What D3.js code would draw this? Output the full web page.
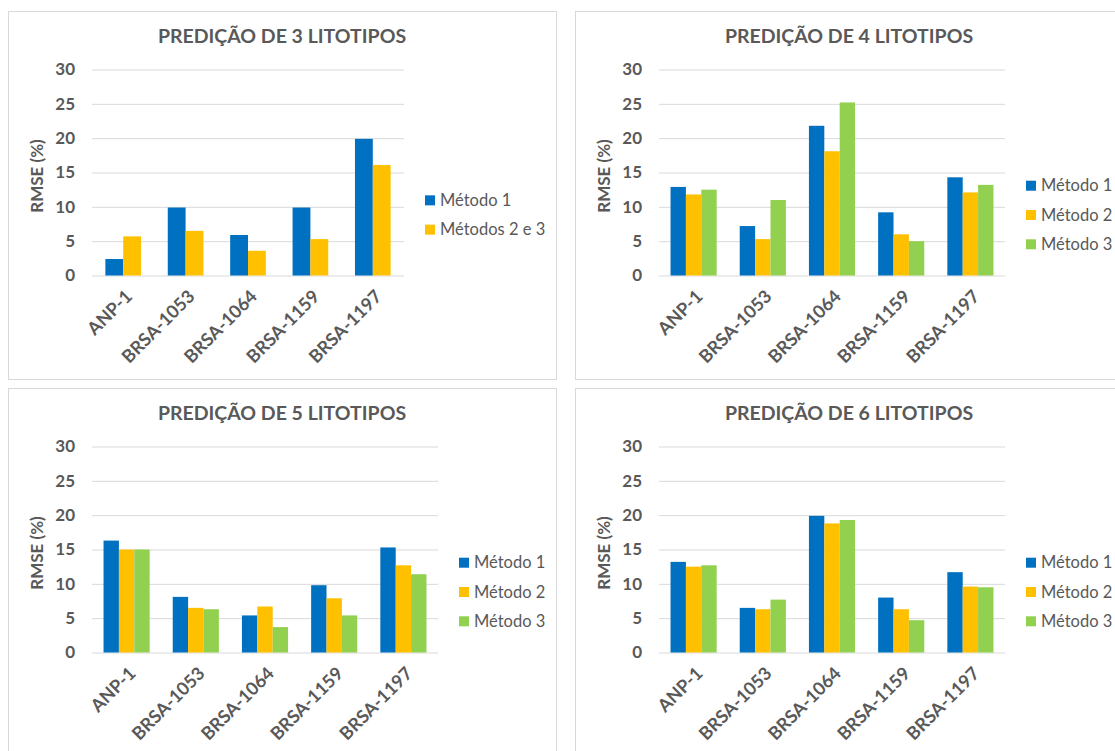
<!DOCTYPE html>
<html>
<head>
<meta charset="utf-8">
<script src="https://cdn.jsdelivr.net/npm/d3@7"></script>
<style>
	body { margin: 0; background: #fff; }
	text { font-family: Lato, "Open Sans", sans-serif; fill: #595959; }
</style>
</head>
<body>
<svg id="chart"></svg>
<script>
// pocos (categorias)
const wells = ["ANP-1", "BRSA-1053", "BRSA-1064", "BRSA-1159", "BRSA-1197"];
const y_ticks = [0, 5, 10, 15, 20, 25, 30];

const names_two = ["Método 1", "Métodos 2 e 3"];
const names_three = ["Método 1", "Método 2", "Método 3"];
const colors = ["#0070C0", "#FFC000", "#92D050"];

// predicao de 3 litotipos
const lito3_metodo1 = [2.4, 9.9, 5.9, 9.9, 19.9];
const lito3_metodos23 = [5.7, 6.5, 3.6, 5.3, 16.1];

// predicao de 4 litotipos
const lito4_metodo1 = [12.9, 7.2, 21.8, 9.2, 14.3];
const lito4_metodo2 = [11.8, 5.3, 18.1, 6.0, 12.1];
const lito4_metodo3 = [12.5, 11.0, 25.2, 5.0, 13.2];

// predicao de 5 litotipos
const lito5_metodo1 = [16.3, 8.1, 5.4, 9.8, 15.3];
const lito5_metodo2 = [15.0, 6.5, 6.7, 7.9, 12.7];
const lito5_metodo3 = [15.0, 6.3, 3.7, 5.4, 11.4];

// predicao de 6 litotipos
const lito6_metodo1 = [13.2, 6.5, 19.9, 8.0, 11.7];
const lito6_metodo2 = [12.5, 6.3, 18.8, 6.3, 9.6];
const lito6_metodo3 = [12.7, 7.7, 19.3, 4.7, 9.5];

const canvasWidth = 1115;
const canvasHeight = 751;

let panels = [
	{ title: "PREDIÇÃO DE 3 LITOTIPOS", px: 8, py: 11, names: names_two, series: [lito3_metodo1, lito3_metodos23] },
	{ title: "PREDIÇÃO DE 4 LITOTIPOS", px: 575, py: 11, names: names_three, series: [lito4_metodo1, lito4_metodo2, lito4_metodo3] },
	{ title: "PREDIÇÃO DE 5 LITOTIPOS", px: 8, py: 388, names: names_three, series: [lito5_metodo1, lito5_metodo2, lito5_metodo3] },
	{ title: "PREDIÇÃO DE 6 LITOTIPOS", px: 575, py: 388, names: names_three, series: [lito6_metodo1, lito6_metodo2, lito6_metodo3] }
];

let svg_elem = d3.select("#chart")
	.attr("width", canvasWidth)
	.attr("height", canvasHeight);

function drawPanel(p) {
	const panelW = 548, panelH = 368;
	let g = svg_elem.append("g");
	let n = p.series.length;

	g.append("rect")
		.attr("x", p.px + 0.5).attr("y", p.py + 0.5)
		.attr("width", panelW).attr("height", panelH)
		.attr("fill", "#fff")
		.attr("stroke", "#d9d9d9");

	g.append("text")
		.attr("x", p.px + panelW / 2)
		.attr("y", p.py + 32)
		.attr("text-anchor", "middle")
		.style("font-size", "19.5px")
		.style("font-weight", "bold")
		.text(p.title);

	let left = p.px + 84;
	let right = n === 2 ? p.px + 396 : p.px + 430;
	let y_scale = d3.scaleLinear()
		.domain([0, 30])
		.range([p.py + 264.5, p.py + 58.5]);

	let month_scale = d3.scaleBand().domain(wells).range([left, right]);
	let step = month_scale.bandwidth();
	let bar_w = step / (n + 1.5);
	let series_scale = d3.scaleBand()
		.domain(d3.range(n))
		.range([bar_w * 0.75, step - bar_w * 0.75]);

	// grade + rotulos do eixo y
	let y_axis = d3.axisLeft(y_scale)
		.tickValues(y_ticks)
		.tickSize(-(right - left))
		.tickPadding(17);
	let ya = g.append("g")
		.attr("transform", `translate(${left},0)`)
		.call(y_axis);
	ya.select(".domain").remove();
	ya.selectAll("line").attr("stroke", "#d9d9d9");
	ya.selectAll("text")
		.style("font-family", "Lato, sans-serif")
		.style("font-size", "17px")
		.style("font-weight", "bold")
		.attr("fill", "#595959");

	g.append("text")
		.attr("transform", `translate(${p.px + 35},${p.py + 165})rotate(-90)`)
		.attr("text-anchor", "middle")
		.style("font-size", "17px")
		.style("font-weight", "bold")
		.text("RMSE (%)");

	p.series.forEach((values, si) => {
		g.selectAll(".bar" + si)
			.data(values).enter()
			.append("rect")
			.attr("class", "bar" + si)
			.attr("x", (d, i) => month_scale(wells[i]) + series_scale(si))
			.attr("width", series_scale.bandwidth())
			.attr("y", d => y_scale(d))
			.attr("height", d => y_scale(0) - y_scale(d))
			.attr("fill", colors[si]);
	});

	// rotulos das categorias
	let xa = g.append("g")
		.attr("transform", `translate(0,${y_scale(0)})`)
		.call(d3.axisBottom(month_scale).tickSize(0).tickPadding(0));
	xa.select(".domain").remove();
	xa.selectAll("text")
		.style("font-family", "Lato, sans-serif")
		.style("font-size", "18px")
		.style("font-weight", "bold")
		.attr("fill", "#595959")
		.attr("text-anchor", "end")
		.attr("y", 0)
		.attr("dy", "0.72em")
		.attr("transform", "translate(1,13)rotate(-45)");

	// legenda
	let leg_mid = p.py + 204;
	let leg_step = 29.3;
	let leg_x = right + 21;
	p.names.forEach((name, si) => {
		let cy = leg_mid + (si - (n - 1) / 2) * leg_step;
		g.append("rect")
			.attr("x", leg_x).attr("y", cy - 5)
			.attr("width", 10).attr("height", 10)
			.attr("fill", colors[si]);
		g.append("text")
			.attr("x", leg_x + 15)
			.attr("y", cy)
			.attr("dy", "0.35em")
			.style("font-size", "16.5px")
			.text(name);
	});
}

panels.forEach(drawPanel);
</script>
</body>
</html>
